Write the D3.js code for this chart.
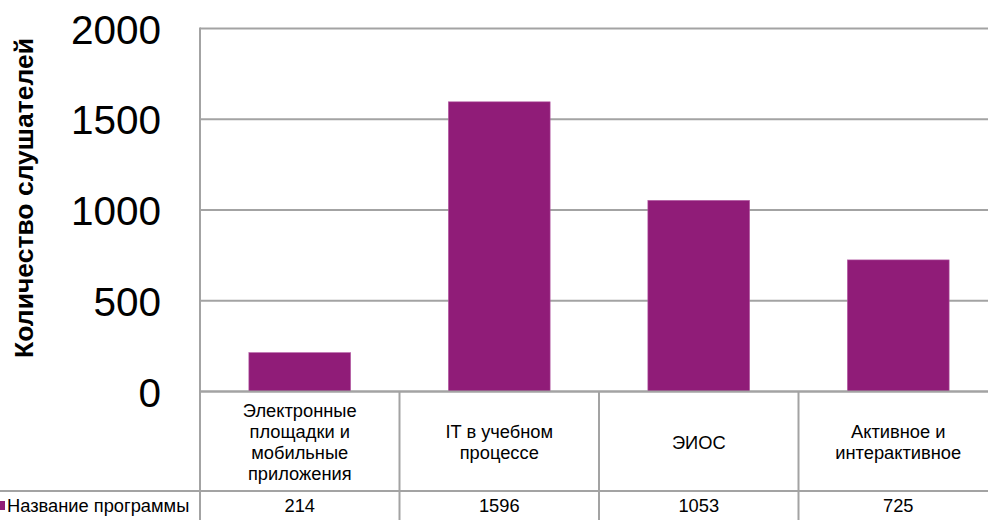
<!DOCTYPE html>
<html><head><meta charset="utf-8">
<script src="https://cdn.jsdelivr.net/npm/d3@7/dist/d3.min.js"></script>
<style>body{margin:0;background:#fff;overflow:hidden}svg{display:block}</style>
</head><body>
<script>
const categories = ["Электронные площадки и мобильные приложения", "IT в учебном процессе", "ЭИОС", "Активное и интерактивное"];
const categoryLines = [["Электронные","площадки и","мобильные","приложения"],["IT в учебном","процессе"],["ЭИОС"],["Активное и","интерактивное"]];
const values = [214, 1596, 1053, 725];
const seriesName = "Название программы";
const yTicks = [0, 500, 1000, 1500, 2000];
const yTitle = "Количество слушателей";

(function () {
const W = 988, H = 520;
const svg = d3.select("body").append("svg").attr("width", W).attr("height", H);
const font = "Liberation Sans, Arial, sans-serif";
const grid = "#a3a3a3";
const fs = 18.3;

const plotLeft = 200, plotRight = 998, plotTop = 28.5, zeroY = 391.5, tableRow = 491;
const y = d3.scaleLinear().domain([0, 2000]).range([zeroY, plotTop]);
const xCat = d3.scaleBand().domain(categories).range([plotLeft, plotRight]).padding(0);
const xBar = d3.scaleBand().domain(categories).range([plotLeft, plotRight]).paddingInner(0.49).paddingOuter(0.245);

const yAxis = d3.axisLeft(y).tickValues(yTicks).tickFormat(d3.format("d")).tickSize(0).tickPadding(39);
const gAx = svg.append("g").attr("transform", `translate(${plotLeft},0)`).call(yAxis);
gAx.select(".domain").remove();
gAx.selectAll("text").attr("font-family", font).attr("font-size", 40.5).attr("fill", "#000").attr("dy", "0.36em");

svg.append("g").selectAll("line").data(yTicks).join("line")
  .attr("x1", plotLeft).attr("x2", W).attr("y1", d => y(d)).attr("y2", d => y(d))
  .attr("stroke", grid).attr("stroke-width", 2);

svg.append("g").selectAll("rect").data(values).join("rect")
  .attr("x", (d, i) => xBar(categories[i])).attr("width", xBar.bandwidth())
  .attr("y", d => y(d)).attr("height", d => y(0) - y(d))
  .attr("fill", "#901c78").attr("stroke", "#b35aa3").attr("stroke-width", 0.6);

svg.append("line").attr("x1", plotLeft).attr("x2", W).attr("y1", y(0)).attr("y2", y(0)).attr("stroke", grid).attr("stroke-width", 2);

svg.append("line").attr("x1", plotLeft).attr("x2", plotLeft).attr("y1", plotTop - 1).attr("y2", H).attr("stroke", grid).attr("stroke-width", 2);
svg.append("g").selectAll("line").data(categories.slice(1)).join("line")
  .attr("x1", d => xCat(d)).attr("x2", d => xCat(d)).attr("y1", zeroY).attr("y2", H)
  .attr("stroke", grid).attr("stroke-width", 2);
svg.append("line").attr("x1", 0).attr("x2", W).attr("y1", tableRow).attr("y2", tableRow).attr("stroke", grid).attr("stroke-width", 2);

const lh = 21;
categories.forEach((c, i) => {
  const lines = categoryLines[i];
  const cx = xCat(c) + xCat.bandwidth() / 2;
  const cy = (zeroY + tableRow) / 2 + 1;
  const t = svg.append("text").attr("x", cx).attr("text-anchor", "middle")
    .attr("font-family", font).attr("font-size", fs).attr("fill", "#000");
  lines.forEach((l, j) => {
    t.append("tspan").attr("x", cx).attr("y", cy + (j - (lines.length - 1) / 2) * lh).attr("dy", "0.35em").text(l);
  });
});

svg.append("g").selectAll("text").data(values).join("text")
  .attr("x", (d, i) => xCat(categories[i]) + xCat.bandwidth() / 2).attr("y", 506).attr("dy", "0.35em")
  .attr("text-anchor", "middle").attr("font-family", font).attr("font-size", fs).attr("fill", "#000")
  .text(d => d);

svg.append("rect").attr("x", 0).attr("y", 501).attr("width", 5).attr("height", 9).attr("fill", "#901c78");
svg.append("text").attr("x", 7).attr("y", 506).attr("dy", "0.35em").attr("font-family", font).attr("font-size", fs).attr("fill", "#000").text(seriesName);

svg.append("text").attr("transform", `translate(33,198) rotate(-90)`).attr("text-anchor", "middle")
  .attr("font-family", font).attr("font-weight", "bold").attr("font-size", 26.5).attr("fill", "#000").text(yTitle);
})();
</script>
</body></html>
